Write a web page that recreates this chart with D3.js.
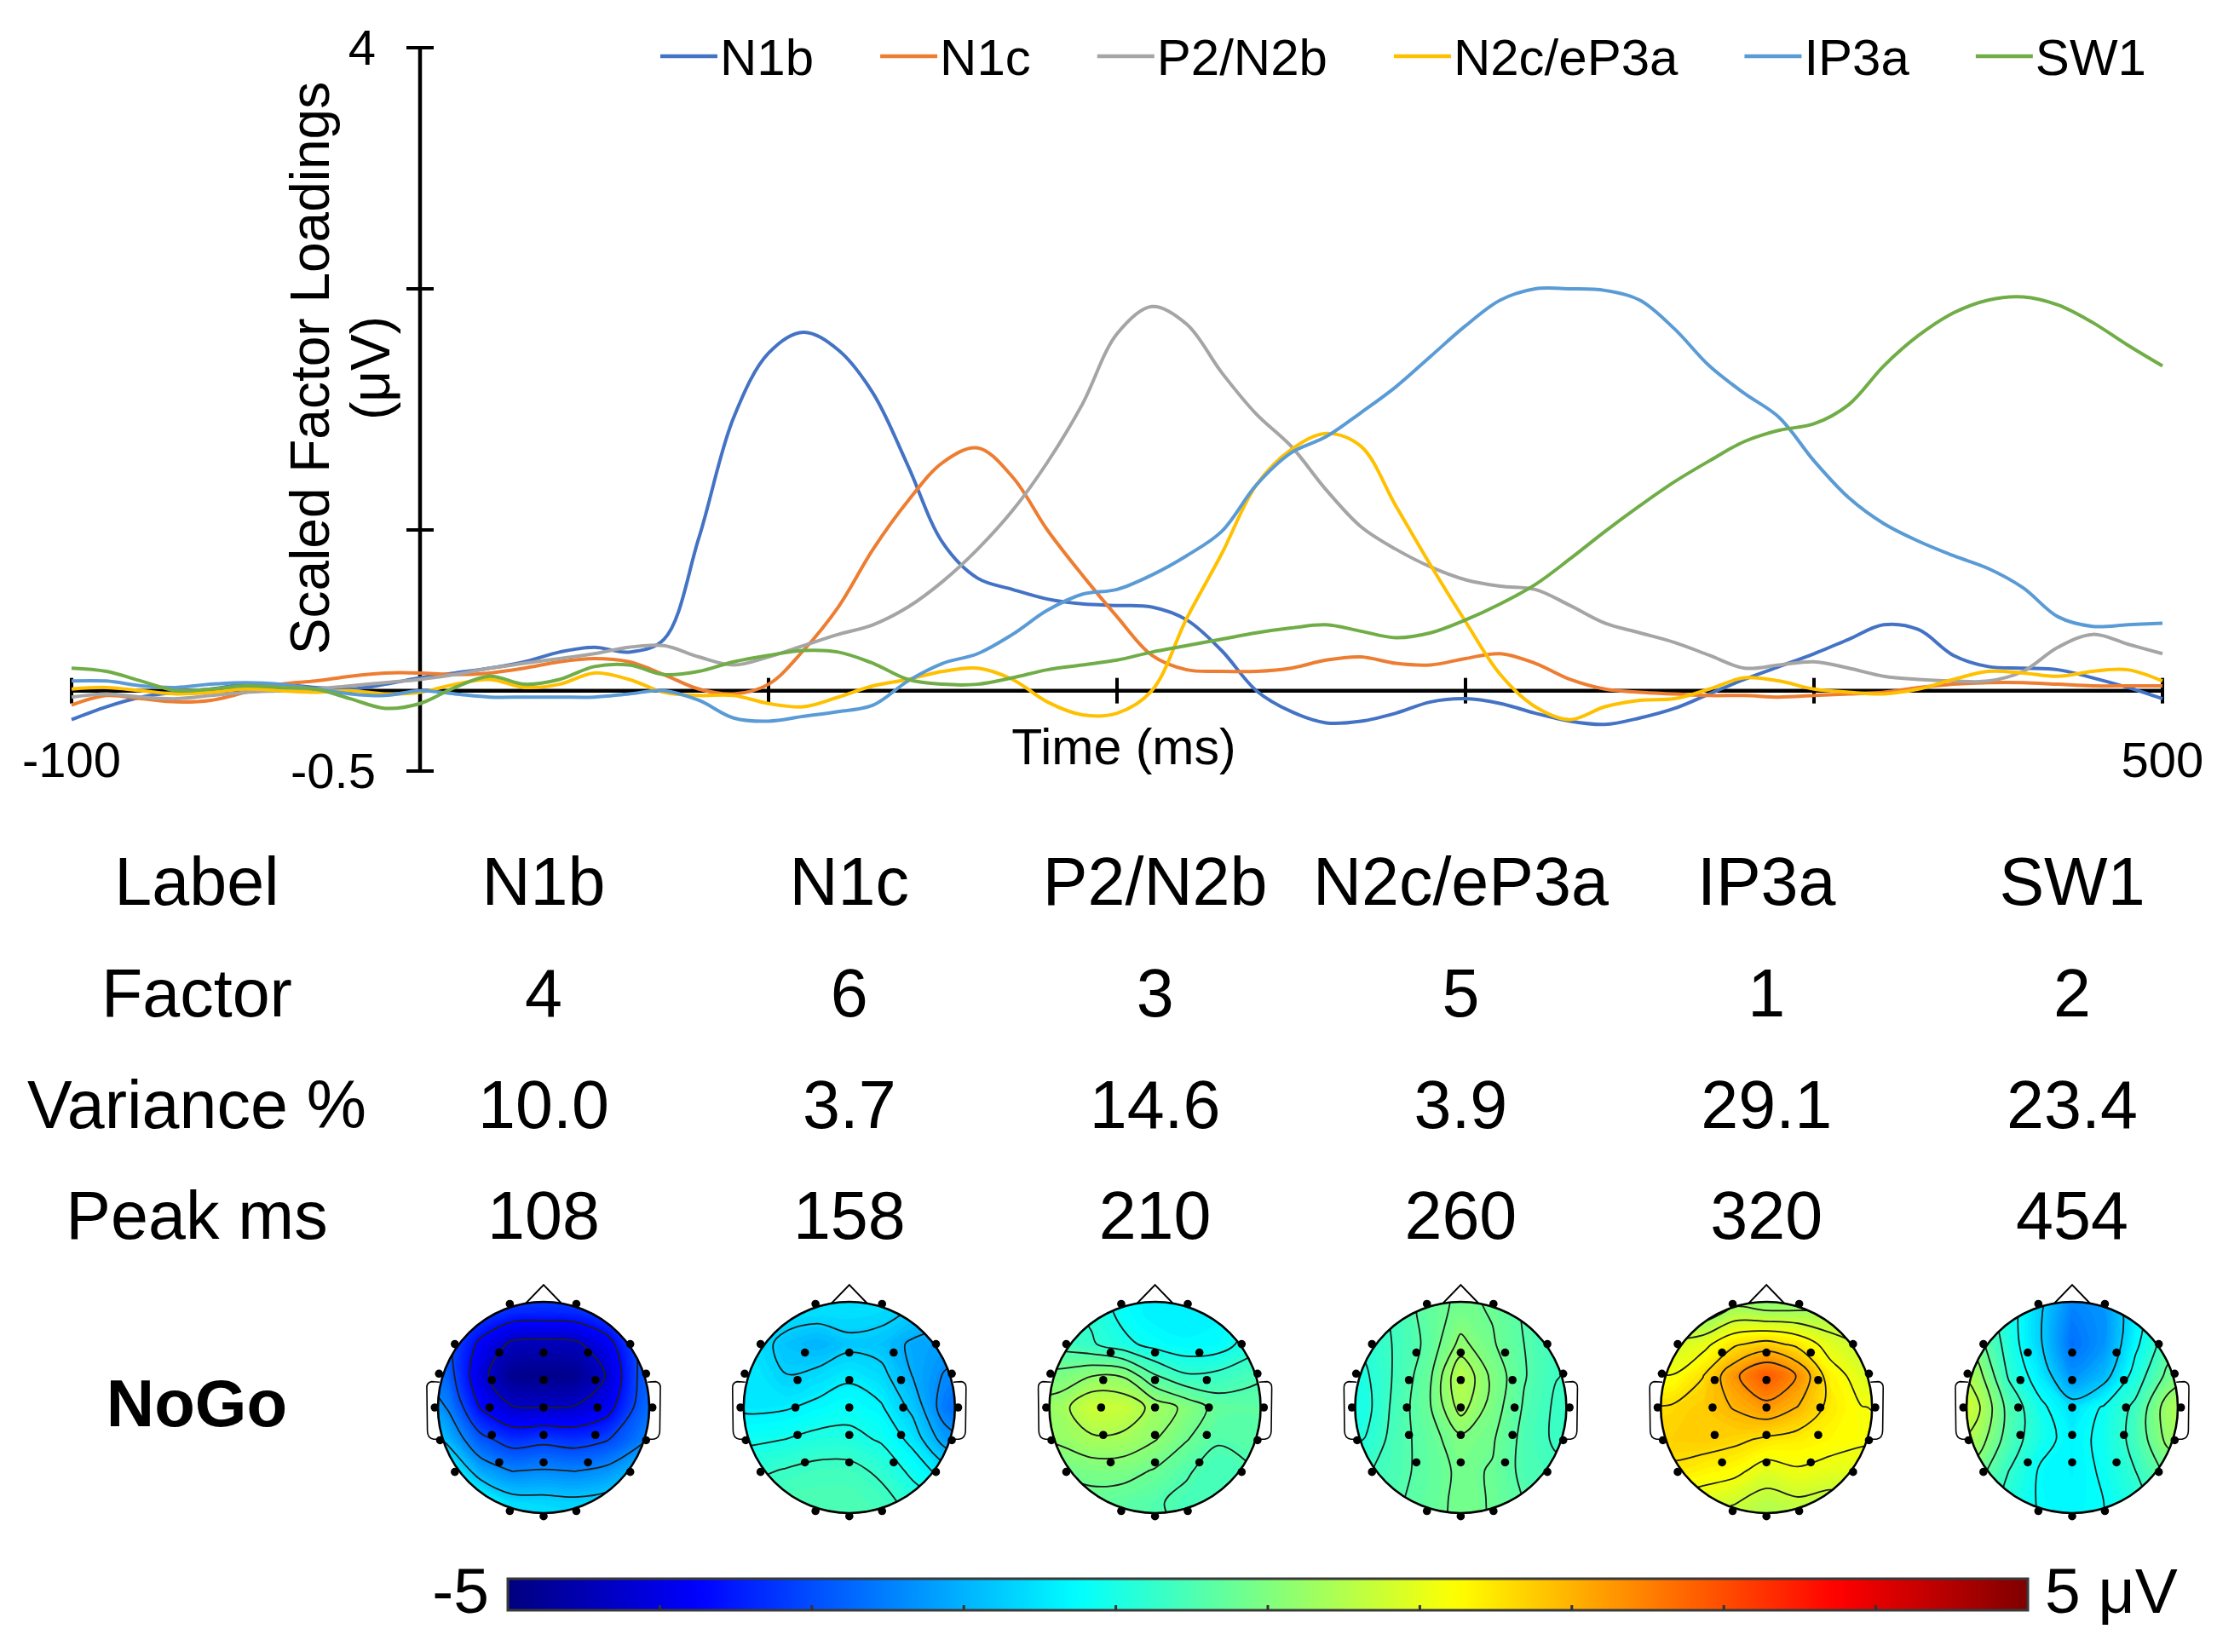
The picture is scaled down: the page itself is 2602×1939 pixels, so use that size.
<!DOCTYPE html>
<html><head><meta charset="utf-8">
<script src="https://cdn.jsdelivr.net/npm/d3@7"></script>
<style>
body{margin:0;background:#fff;}
svg{display:block;}
text{font-family:"Liberation Sans",Arial,sans-serif;fill:#000;}
</style>
</head><body>
<svg id="c" width="2602" height="1939"></svg>
<script>
// ---------------- DATA ----------------
const times = [-100,-90,-80,-70,-60,-50,-40,-30,-20,-10,0,10,20,30,40,50,60,70,80,90,100,110,120,130,140,150,160,170,180,190,200,210,220,230,240,250,260,270,280,290,300,310,320,330,340,350,360,370,380,390,400,410,420,430,440,450,460,470,480,490,500];
const seriesNames = ["N1b","N1c","P2/N2b","N2c/eP3a","IP3a","SW1"];
const seriesColors = ["#4472C4","#ED7D31","#A5A5A5","#FFC000","#5B9BD5","#70AD47"];
const n1b = [-0.18,-0.10,-0.04,-0.01,0.01,0.04,0.04,0.02,0.01,0.04,
 0.08,0.11,0.14,0.18,0.24,0.27,0.24,0.32,0.95,1.70,
 2.10,2.23,2.12,1.85,1.40,0.92,0.70,0.63,0.57,0.54,
 0.53,0.52,0.44,0.25,0.00,-0.13,-0.20,-0.19,-0.14,-0.07,
 -0.05,-0.08,-0.14,-0.19,-0.21,-0.17,-0.11,-0.02,0.07,0.15,
 0.23,0.32,0.41,0.38,0.22,0.15,0.14,0.13,0.08,0.02,-0.05];
const n1c = [-0.09,-0.03,-0.05,-0.07,-0.06,-0.01,0.04,0.06,0.09,0.11,
 0.11,0.10,0.11,0.14,0.18,0.20,0.18,0.10,0.01,-0.02,
 0.04,0.25,0.52,0.88,1.18,1.42,1.51,1.33,1.00,0.72,
 0.46,0.22,0.13,0.12,0.12,0.14,0.19,0.21,0.17,0.16,
 0.20,0.23,0.17,0.07,0.01,-0.01,-0.02,-0.03,-0.03,-0.04,
 -0.03,-0.02,-0.01,0.02,0.04,0.05,0.05,0.04,0.03,0.03,0.03];
const p2n2b = [-0.04,-0.02,-0.04,-0.05,-0.03,-0.01,0.00,0.01,0.03,0.05,
 0.07,0.10,0.14,0.17,0.20,0.23,0.27,0.28,0.21,0.16,
 0.21,0.28,0.35,0.41,0.52,0.68,0.88,1.12,1.42,1.78,
 2.22,2.39,2.28,1.98,1.72,1.52,1.25,1.02,0.88,0.77,
 0.69,0.65,0.63,0.53,0.42,0.36,0.30,0.22,0.14,0.16,
 0.18,0.14,0.09,0.07,0.06,0.06,0.12,0.27,0.35,0.29,0.23];
const n2c = [0.01,0.02,0.00,-0.02,-0.01,0.01,0.00,-0.01,0.00,-0.02,
 -0.01,0.04,0.07,0.02,0.04,0.11,0.07,-0.01,-0.03,-0.03,
 -0.08,-0.10,-0.04,0.03,0.07,0.12,0.14,0.07,-0.07,-0.15,
 -0.14,0.00,0.45,0.85,1.28,1.50,1.60,1.52,1.15,0.78,
 0.43,0.10,-0.10,-0.18,-0.10,-0.06,-0.05,0.01,0.08,0.06,
 0.01,-0.01,-0.02,0.01,0.07,0.12,0.11,0.09,0.12,0.13,0.06];
const ip3a = [0.06,0.06,0.03,0.02,0.04,0.05,0.04,0.01,-0.02,-0.03,
 0.00,-0.02,-0.04,-0.04,-0.04,-0.04,-0.02,0.00,-0.06,-0.17,
 -0.19,-0.16,-0.13,-0.09,0.06,0.17,0.23,0.35,0.50,0.60,
 0.63,0.72,0.84,0.99,1.28,1.48,1.58,1.73,1.89,2.08,
 2.27,2.43,2.50,2.50,2.49,2.43,2.25,2.02,1.85,1.70,
 1.43,1.20,1.04,0.93,0.84,0.76,0.64,0.46,0.40,0.41,0.42];
const sw1 = [0.14,0.12,0.06,0.00,0.01,0.03,0.02,0.01,-0.05,-0.11,
 -0.08,0.02,0.09,0.04,0.07,0.15,0.16,0.10,0.12,0.18,
 0.22,0.25,0.24,0.17,0.07,0.04,0.04,0.08,0.13,0.16,
 0.19,0.24,0.28,0.32,0.36,0.39,0.41,0.37,0.33,0.36,
 0.44,0.54,0.66,0.82,0.99,1.15,1.30,1.43,1.55,1.62,
 1.66,1.78,2.02,2.21,2.35,2.43,2.45,2.40,2.29,2.15,2.02];
const seriesValues = [n1b,n1c,p2n2b,n2c,ip3a,sw1];

const xTicks = [-100,0,100,200,300,400,500];
const xTickLabels = {"-100":"-100","500":"500"};
const yTicks = [-0.5,1,2.5,4];
const yTickLabels = {"-0.5":"-0.5","4":"4"};

// table
const rowLabels = ["Label","Factor","Variance %","Peak ms"];
const factorNums = ["4","6","3","5","1","2"];
const variancePct = ["10.0","3.7","14.6","3.9","29.1","23.4"];
const peakMs = ["108","158","210","260","320","454"];

// topographic maps: 9x9 grids (µV), rows top(front) -> bottom(back), cols left -> right
const gridPos = [-1.2,-0.9,-0.6,-0.3,0,0.3,0.6,0.9,1.2];
const mapN1b = [
 [-2.4,-2.6,-2.8,-2.9,-2.9,-2.9,-2.8,-2.6,-2.4],
 [-2.5,-2.8,-3.1,-3.35,-3.4,-3.35,-3.1,-2.8,-2.5],
 [-2.5,-2.9,-3.8,-4.4,-4.45,-4.4,-3.9,-2.95,-2.5],
 [-2.3,-2.82,-4.09,-4.85,-4.9,-4.85,-4.25,-3.0,-2.4],
 [-1.8,-2.5,-3.7,-4.25,-4.3,-4.25,-3.9,-2.9,-2.2],
 [-1.2,-2.0,-2.9,-3.3,-3.2,-3.3,-3.1,-2.6,-2.0],
 [-0.6,-1.2,-2.1,-2.45,-2.4,-2.45,-2.3,-1.9,-1.6],
 [-0.3,-0.6,-1.1,-1.6,-1.65,-1.7,-1.6,-1.5,-1.3],
 [-0.2,-0.4,-0.8,-1.2,-1.3,-1.35,-1.3,-1.3,-1.2]];
const mapN1c = [
 [-1.4,-1.4,-1.45,-1.5,-1.5,-1.5,-1.55,-1.6,-1.7],
 [-1.4,-1.45,-1.5,-1.55,-1.55,-1.6,-1.75,-1.9,-2.0],
 [-1.45,-1.5,-1.85,-2.0,-1.8,-1.85,-2.1,-2.2,-2.3],
 [-1.45,-1.45,-1.7,-1.6,-1.45,-1.6,-2.05,-2.4,-2.6],
 [-1.45,-1.46,-1.42,-1.3,-1.2,-1.35,-1.8,-2.55,-2.8],
 [-1.15,-1.12,-1.06,-0.95,-0.95,-1.1,-1.5,-2.2,-2.45],
 [-0.9,-0.8,-0.7,-0.62,-0.62,-0.8,-1.15,-1.55,-1.8],
 [-0.6,-0.55,-0.5,-0.5,-0.5,-0.6,-0.85,-1.1,-1.3],
 [-0.4,-0.4,-0.4,-0.45,-0.45,-0.5,-0.7,-0.9,-1.0]];
const mapP2N2b = [
 [-0.65,-0.8,-1.0,-1.2,-1.35,-1.35,-1.3,-1.1,-0.9],
 [-0.6,-0.7,-0.85,-1.2,-1.4,-1.4,-1.35,-1.05,-0.8],
 [-0.5,-0.6,-0.75,-1.0,-1.2,-1.3,-1.25,-0.95,-0.7],
 [-0.1,-0.05,0.12,0.1,-0.45,-0.75,-0.7,-0.55,-0.45],
 [0.2,0.3,0.75,0.7,0.32,0.05,-0.3,-0.35,-0.35],
 [0.1,0.2,0.38,0.35,0.15,-0.15,-0.45,-0.4,-0.35],
 [-0.2,-0.15,-0.05,-0.05,-0.2,-0.45,-0.6,-0.5,-0.4],
 [-0.3,-0.3,-0.3,-0.35,-0.45,-0.55,-0.55,-0.5,-0.4],
 [-0.3,-0.35,-0.35,-0.4,-0.45,-0.5,-0.5,-0.45,-0.4]];
const mapN2c = [
 [-0.9,-0.8,-0.55,-0.3,-0.15,-0.25,-0.45,-0.6,-0.7],
 [-0.95,-0.8,-0.6,-0.3,-0.1,-0.2,-0.45,-0.62,-0.7],
 [-1.0,-0.85,-0.62,-0.35,0.15,-0.15,-0.42,-0.62,-0.7],
 [-1.1,-0.95,-0.6,-0.25,0.55,0.0,-0.4,-0.65,-0.72],
 [-1.15,-1.0,-0.55,-0.22,0.42,-0.05,-0.45,-0.7,-0.78],
 [-1.05,-0.9,-0.52,-0.3,0.0,-0.15,-0.5,-0.7,-0.75],
 [-0.8,-0.7,-0.5,-0.32,-0.12,-0.2,-0.5,-0.6,-0.65],
 [-0.65,-0.6,-0.45,-0.3,-0.1,-0.2,-0.42,-0.55,-0.6],
 [-0.6,-0.55,-0.42,-0.28,-0.12,-0.2,-0.38,-0.5,-0.55]];
const mapIP3a = [
 [0.2,0.0,-0.2,-0.3,-0.3,-0.3,-0.2,0.0,0.1],
 [0.5,0.4,0.05,0.45,0.35,0.35,0.35,0.3,0.35],
 [0.9,0.8,1.0,1.5,1.7,1.45,0.95,0.7,0.7],
 [1.2,1.15,1.55,2.3,2.9,2.35,1.35,0.95,0.9],
 [1.6,1.6,1.75,2.0,2.25,1.95,1.45,1.15,1.1],
 [1.65,1.7,1.75,1.65,1.5,1.4,1.3,1.2,1.15],
 [1.5,1.5,1.35,1.25,0.95,1.1,1.0,0.95,0.95],
 [1.1,1.0,0.9,0.75,0.55,0.65,0.55,0.65,0.7],
 [0.8,0.7,0.5,0.4,0.3,0.35,0.3,0.4,0.5]];
const mapSW1 = [
 [-0.3,-0.5,-1.0,-1.6,-2.2,-2.0,-1.3,-0.8,-0.6],
 [0.0,-0.4,-1.0,-1.7,-2.5,-2.3,-1.4,-0.7,-0.4],
 [0.3,-0.1,-0.95,-1.7,-2.65,-2.3,-1.3,-0.5,-0.2],
 [0.8,0.3,-0.8,-1.45,-2.3,-1.95,-1.0,-0.2,0.2],
 [1.0,0.6,-0.45,-1.1,-1.55,-1.15,-0.65,0.3,0.6],
 [0.7,0.35,-0.5,-1.05,-1.35,-1.1,-0.6,0.2,0.5],
 [0.2,-0.1,-0.75,-1.25,-1.35,-1.15,-0.75,-0.2,0.0],
 [-0.2,-0.4,-0.9,-1.25,-1.3,-1.2,-0.9,-0.5,-0.3],
 [-0.4,-0.5,-0.9,-1.2,-1.25,-1.2,-0.9,-0.6,-0.5]];
const topoMaps = [mapN1b,mapN1c,mapP2N2b,mapN2c,mapIP3a,mapSW1];
const contourLevels = [
 [-4.29,-3.67,-3.06,-2.44,-1.83,-1.21],
 [-2.37,-2.04,-1.71,-1.39,-1.06,-0.73],
 [-1.09,-0.79,-0.48,-0.17,0.13,0.44],
 [-0.91,-0.66,-0.42,-0.18,0.07,0.31],
 [0.31,0.73,1.14,1.56,1.97,2.39],
 [-1.75,-1.2,-0.75,-0.3,0.1,0.5]];
// electrode positions (head-radius units, x right, y toward back)
const electrodes = [
 [-0.42,-0.52],[0,-0.52],[0.42,-0.52],[-0.49,-0.26],[0,-0.26],[0.49,-0.26],
 [-0.51,0],[0,0],[0.51,0],[-0.49,0.26],[0,0.26],[0.49,0.26],
 [-0.42,0.52],[0,0.52],[0.42,0.52],
 [-0.32,-0.98],[0.31,-0.98],[-0.84,-0.6],[0.82,-0.6],[-0.99,-0.32],[0.97,-0.32],
 [-1.03,0],[1.03,0],[-0.98,0.31],[0.97,0.31],[-0.84,0.61],[0.82,0.61],
 [-0.32,0.98],[0,1.03],[0.31,0.98]];
const conditionLabel = "NoGo";
const colorbarDomain = [-5,5];
const colorbarTicks = [-4,-3,-2,-1,0,1,2,3,4];

// ---------------- DRAW ----------------
const svg = d3.select("#c");
const x = d3.scaleLinear().domain([-100,500]).range([84,2538]);
const y = d3.scaleLinear().domain([-0.5,4]).range([905,56]);

// axes
const ax = svg.append("g").attr("stroke","#000");
ax.append("line").attr("x1",x(0)).attr("x2",x(0)).attr("y1",y(4)).attr("y2",y(-0.5)).attr("stroke-width",4.5);
ax.append("line").attr("x1",x(-100)).attr("x2",x(500)).attr("y1",y(0)).attr("y2",y(0)).attr("stroke-width",4.5);
yTicks.forEach(v=>{
  ax.append("line").attr("x1",x(0)-16).attr("x2",x(0)+16).attr("y1",y(v)).attr("y2",y(v)).attr("stroke-width",4);
});
xTicks.forEach(t=>{
  ax.append("line").attr("x1",x(t)).attr("x2",x(t)).attr("y1",y(0)-15).attr("y2",y(0)+15).attr("stroke-width",4);
});
yTicks.forEach(v=>{
  const lab = yTickLabels[String(v)];
  if(lab) svg.append("text").attr("x",x(0)-52).attr("y",y(v)+20).attr("text-anchor","end").style("font-size","58px").text(lab);
});
xTicks.forEach(t=>{
  const lab = xTickLabels[String(t)];
  if(lab) svg.append("text").attr("x",x(t)).attr("y",y(0)+101).attr("text-anchor","middle").style("font-size","58px").text(lab);
});
svg.append("text").attr("x",(x(-100)+x(500))/2+8).attr("y",897).attr("text-anchor","middle").style("font-size","59px").text("Time (ms)");
svg.append("text").attr("transform","translate(386,432) rotate(-90)").attr("text-anchor","middle").style("font-size","64px").text("Scaled Factor Loadings");
svg.append("text").attr("transform","translate(457,432) rotate(-90)").attr("text-anchor","middle").style("font-size","64px").text("(\u03bcV)");

// series
const line = d3.line().x((d,i)=>x(times[i])).y(d=>y(d)).curve(d3.curveCatmullRom.alpha(0.5));
seriesValues.forEach((vals,k)=>{
  svg.append("path").attr("d",line(vals)).attr("fill","none").attr("stroke",seriesColors[k]).attr("stroke-width",4).attr("stroke-linejoin","round");
});

// legend
let lx = 775;
seriesNames.forEach((nm,k)=>{
  svg.append("line").attr("x1",lx).attr("x2",lx+67).attr("y1",66).attr("y2",66).attr("stroke",seriesColors[k]).attr("stroke-width",4.5);
  const t = svg.append("text").attr("x",lx+70).attr("y",88).style("font-size","60px").text(nm);
  lx += 70 + t.node().getComputedTextLength() + 78;
});

// table
const col = d3.scalePoint().domain(seriesNames).range([638,2432]);
const labelX = 231;
const rowY = [1062,1193,1324,1454];
const rowData = [seriesNames, factorNums, variancePct, peakMs];
rowLabels.forEach((lab,r)=>{
  svg.append("text").attr("x",labelX).attr("y",rowY[r]).attr("text-anchor","middle").style("font-size","79px").text(lab);
  rowData[r].forEach((v,c)=>{
    svg.append("text").attr("x",col(seriesNames[c])).attr("y",rowY[r]).attr("text-anchor","middle").style("font-size","79px").text(v);
  });
});
svg.append("text").attr("x",labelX).attr("y",1674).attr("text-anchor","middle").style("font-size","78px").style("font-weight","bold").text(conditionLabel);

// jet colour scale
const jet = d3.scaleLinear().domain([-5,-3.75,-1.25,1.25,3.75,5])
  .range(["#00007f","#0000ff","#00ffff","#ffff00","#ff0000","#7f0000"]).clamp(true);

// topomaps
const R = 124, headY = 1652;
const defs = svg.append("defs");
const ringLine = d3.line().curve(d3.curveCatmullRomClosed.alpha(0.5));
topoMaps.forEach((grid,k)=>{
  const cx = col(seriesNames[k]);
  const n = gridPos.length;
  const step = gridPos[1]-gridPos[0];
  const toPx = p=>[cx + (gridPos[0] + (p[0]-0.5)*step)*R, headY + (gridPos[0] + (p[1]-0.5)*step)*R];
  const pathOf = mp => mp.coordinates.map(poly=>poly.map(ring=>ringLine(ring.slice(0,-1).map(toPx))).join("")).join("");
  const flat = grid.flat();
  const [mn,mx] = d3.extent(flat);
  const fillThr = d3.range(Math.floor(mn*10)/10, mx, 0.08);
  const bands = d3.contours().size([n,n]).smooth(true).thresholds(fillThr)(flat);
  defs.append("clipPath").attr("id","hc"+k).append("circle").attr("cx",cx).attr("cy",headY).attr("r",R);
  const g = svg.append("g");
  g.append("path").attr("d",`M${cx-0.17*R},${headY-0.985*R} L${cx},${headY-1.16*R} L${cx+0.17*R},${headY-0.985*R}`)
    .attr("fill","#fff").attr("stroke","#000").attr("stroke-width",2);
  [-1,1].forEach(s=>{
    const e = (a,b)=>`${cx+s*a*R},${headY+b*R}`;
    g.append("path").attr("d",`M${e(0.985,-0.24)} L${e(1.06,-0.245)} Q${e(1.11,-0.235)} ${e(1.105,-0.18)} L${e(1.1,0.22)} Q${e(1.1,0.29)} ${e(1.04,0.30)} L${e(0.975,0.30)}`)
      .attr("fill","#fff").attr("stroke","#000").attr("stroke-width",1.6);
  });
  const inner = g.append("g").attr("clip-path",`url(#hc${k})`);
  bands.forEach(b=>{
    if(!b.coordinates.length) return;
    inner.append("path").attr("d",pathOf(b)).attr("fill",jet(b.value+0.04)).attr("fill-rule","evenodd").attr("stroke",jet(b.value+0.04)).attr("stroke-width",0.8);
  });
  const lines = d3.contours().size([n,n]).smooth(true).thresholds(contourLevels[k])(flat);
  lines.forEach(b=>{
    if(!b.coordinates.length) return;
    inner.append("path").attr("d",pathOf(b)).attr("fill","none").attr("stroke","#1e1e1e").attr("stroke-width",1.8);
  });
  g.append("circle").attr("cx",cx).attr("cy",headY).attr("r",R).attr("fill","none").attr("stroke","#000").attr("stroke-width",2.6);
  electrodes.forEach(p=>{
    g.append("circle").attr("cx",cx+p[0]*R).attr("cy",headY+p[1]*R).attr("r",4.8).attr("fill","#000");
  });
});

// colour bar
const cb = d3.scaleLinear().domain(colorbarDomain).range([596,2380]);
const grad = defs.append("linearGradient").attr("id","jetg").attr("x1","0%").attr("x2","100%").attr("y1","0%").attr("y2","0%");
d3.range(0,101).forEach(i=>{
  const v = colorbarDomain[0] + i/100*(colorbarDomain[1]-colorbarDomain[0]);
  grad.append("stop").attr("offset",i+"%").attr("stop-color",jet(v));
});
svg.append("rect").attr("x",cb(-5)).attr("y",1853).attr("width",cb(5)-cb(-5)).attr("height",37).attr("fill","url(#jetg)").attr("stroke","#3a3a3a").attr("stroke-width",3);
colorbarTicks.forEach(v=>{
  svg.append("line").attr("x1",cb(v)).attr("x2",cb(v)).attr("y1",1884).attr("y2",1890).attr("stroke","#333").attr("stroke-width",3);
});
svg.append("text").attr("x",cb(-5)-22).attr("y",1893).attr("text-anchor","end").style("font-size","75px").text("-5");
svg.append("text").attr("x",cb(5)+20).attr("y",1893).attr("text-anchor","start").style("font-size","75px").text("5 \u03bcV");
</script>
</body></html>
